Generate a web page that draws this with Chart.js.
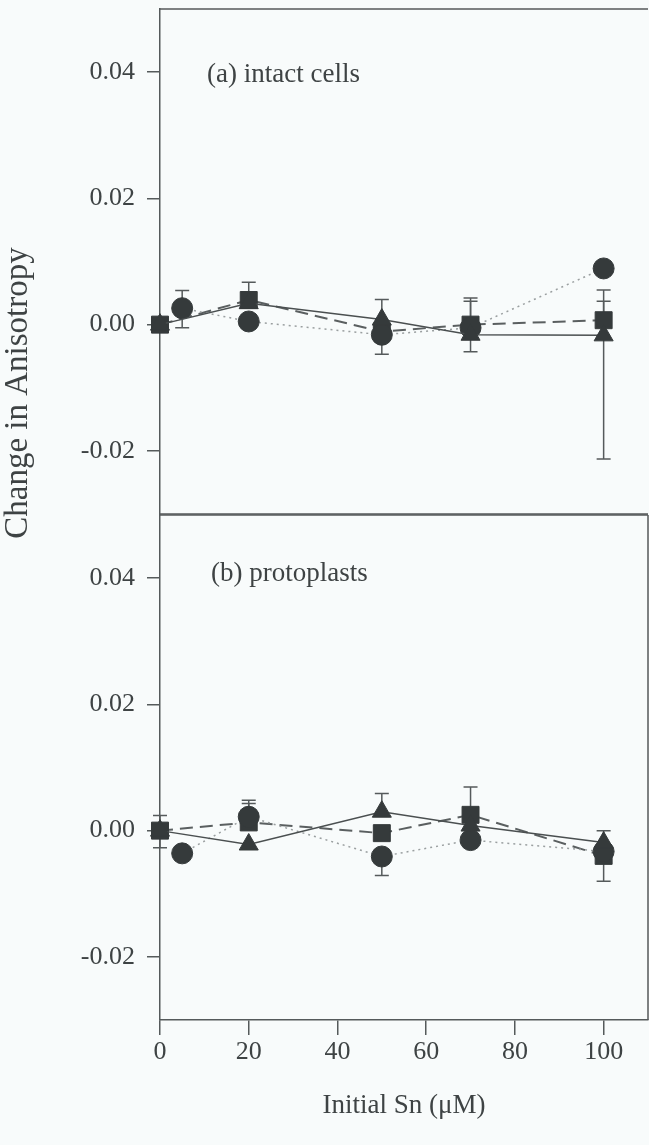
<!DOCTYPE html>
<html>
<head>
<meta charset="utf-8">
<script src="https://cdn.jsdelivr.net/npm/chart.js@4"></script>
<style>
html, body { margin: 0; padding: 0; background: #f8fbfb; }
#wrap { position: relative; width: 649px; height: 1145px; overflow: hidden; }
canvas { position: absolute; left: 0; }
#panelA { top: -60px; }
#panelB { top: 0; }
</style>
</head>
<body>
<div id="wrap">
  <canvas id="panelA" width="700" height="1145"></canvas>
  <canvas id="panelB" width="700" height="1145"></canvas>
</div>
<script>
// Axis ticks
const xTicks = [0, 20, 40, 60, 80, 100];
const yTicks = [-0.02, 0.00, 0.02, 0.04];

// (a) intact cells
const aSquareX = [0, 20, 50, 70, 100];
const aSquareY = [0.0000, 0.0039, -0.0011, 0.0000, 0.0007];
const aSquareHi = [null, 0.0067, null, 0.0042, 0.0037];
const aSquareLo = [null, null, null, -0.0043, null];

const aCircleX = [5, 20, 50, 70, 100];
const aCircleY = [0.0026, 0.0005, -0.0016, -0.0005, 0.0089];
const aCircleHi = [0.0054, null, null, null, null];
const aCircleLo = [-0.0005, null, -0.0047, null, null];

const aTriX = [0, 20, 50, 70, 100];
const aTriY = [0.0000, 0.0034, 0.0008, -0.0016, -0.0017];
const aTriHi = [null, null, 0.0040, 0.0037, 0.0055];
const aTriLo = [null, null, null, null, -0.0213];

// (b) protoplasts
const bSquareX = [0, 20, 50, 70, 100];
const bSquareY = [0.0000, 0.0013, -0.0004, 0.0025, -0.0040];
const bSquareHi = [0.0024, 0.0048, null, 0.0069, null];
const bSquareLo = [-0.0027, null, null, null, -0.0080];

const bCircleX = [5, 20, 50, 70, 100];
const bCircleY = [-0.0036, 0.0022, -0.0041, -0.0015, -0.0033];
const bCircleHi = [null, 0.0043, null, null, null];
const bCircleLo = [null, null, -0.0071, null, null];

const bTriX = [0, 20, 50, 70, 100];
const bTriY = [0.0000, -0.0022, 0.0030, 0.0008, -0.0019];
const bTriHi = [null, null, 0.0059, null, 0.0000];
const bTriLo = [null, null, null, null, null];

const INK = '#353a3b';
const AXIS = '#555a5b';
const TEXT = '#3e4344';
const FONT = 'Liberation Serif';

// Build one line dataset with markers and error bounds
function series(xs, ys, hi, lo, style, radius, dash, lineColor, lineWidth) {
  return {
    data: xs.map((x, i) => ({ x: x, y: ys[i] })),
    errHi: hi,
    errLo: lo,
    showLine: true,
    clip: false,
    borderColor: lineColor,
    borderWidth: lineWidth,
    borderDash: dash,
    pointStyle: style,
    pointRadius: radius,
    pointHoverRadius: radius,
    pointBackgroundColor: INK,
    pointBorderColor: INK,
    pointBorderWidth: 1,
    tension: 0
  };
}

// Error bars, drawn under the markers
const errorBars = {
  id: 'errorBars',
  beforeDatasetsDraw(chart) {
    const ctx = chart.ctx;
    const xs = chart.scales.x;
    const ys = chart.scales.y;
    ctx.save();
    ctx.strokeStyle = AXIS;
    ctx.lineWidth = 1.5;
    chart.data.datasets.forEach(ds => {
      ds.data.forEach((p, i) => {
        const px = xs.getPixelForValue(p.x);
        const py = ys.getPixelForValue(p.y);
        [ds.errHi[i], ds.errLo[i]].forEach(v => {
          if (v === null) return;
          const ey = ys.getPixelForValue(v);
          ctx.beginPath();
          ctx.moveTo(px, py);
          ctx.lineTo(px, ey);
          ctx.moveTo(px - 7, ey);
          ctx.lineTo(px + 7, ey);
          ctx.stroke();
        });
      });
    });
    ctx.restore();
  }
};

// Frame lines around the plot area and free text
const frame = {
  id: 'frame',
  afterDraw(chart, args, opts) {
    const ctx = chart.ctx;
    const a = chart.chartArea;
    ctx.save();
    ctx.strokeStyle = AXIS;
    ctx.lineWidth = 1.5;
    ctx.beginPath();
    if (opts.top) { ctx.moveTo(a.left, a.top); ctx.lineTo(a.right, a.top); }
    if (opts.bottom) { ctx.moveTo(a.left, a.bottom); ctx.lineTo(a.right, a.bottom); }
    if (opts.right) { ctx.moveTo(a.right, a.top); ctx.lineTo(a.right, a.bottom); }
    ctx.stroke();
    ctx.fillStyle = TEXT;
    ctx.textBaseline = 'middle';
    ctx.textAlign = 'left';
    ctx.font = '27px "' + FONT + '"';
    ctx.fillText(opts.label, opts.labelX, opts.labelY + opts.dy);
    if (opts.yTitle) {
      ctx.translate(18, 393 + opts.dy);
      ctx.rotate(-Math.PI / 2);
      ctx.textAlign = 'center';
      ctx.font = '33px "' + FONT + '"';
      ctx.fillText(opts.yTitle, 0, 0);
    }
    ctx.restore();
  }
};

function makeChart(id, datasets, pad, showX, frameOpts) {
  return new Chart(document.getElementById(id), {
    type: 'scatter',
    data: { datasets: datasets },
    options: {
      responsive: false,
      animation: false,
      events: [],
      layout: { padding: pad },
      plugins: {
        legend: { display: false },
        tooltip: { enabled: false },
        frame: frameOpts
      },
      scales: {
        x: {
          type: 'linear',
          min: 0,
          max: 110,
          display: showX,
          afterBuildTicks: s => { s.ticks = xTicks.map(v => ({ value: v })); },
          afterFit: s => { s.height = showX ? 125 : 0; },
          border: { display: true, color: AXIS, width: 1.5 },
          grid: { drawOnChartArea: false, drawTicks: true, tickLength: 15, color: AXIS, lineWidth: 1.5 },
          ticks: { color: TEXT, padding: 2, font: { family: FONT, size: 26 } },
          title: {
            display: true,
            text: 'Initial Sn (\u03bcM)',
            color: TEXT,
            padding: { top: 0, bottom: 23 },
            font: { family: FONT, size: 27 }
          }
        },
        y: {
          type: 'linear',
          min: -0.03,
          max: 0.05,
          afterBuildTicks: s => { s.ticks = yTicks.map(v => ({ value: v })); },
          afterFit: s => { s.width = 160; },
          border: { display: true, color: AXIS, width: 1.5 },
          grid: { drawOnChartArea: false, drawTicks: true, tickLength: 13, color: AXIS, lineWidth: 1.5 },
          ticks: {
            color: TEXT,
            padding: 12,
            font: { family: FONT, size: 26 },
            callback: v => v.toFixed(2)
          }
        }
      }
    },
    plugins: [errorBars, frame]
  });
}

// Panel (a): canvas is shifted up 60px, so its plot area sits at 9..514 on the page
makeChart('panelA', [
  series(aTriX, aTriY, aTriHi, aTriLo, 'triangle', 11, [], '#4a4f50', 1.5),
  series(aCircleX, aCircleY, aCircleHi, aCircleLo, 'circle', 10.5, [2, 4], '#9a9fa0', 1.5),
  series(aSquareX, aSquareY, aSquareHi, aSquareLo, 'rect', 12, [13, 7], '#5a5f60', 2)
], { left: 0, right: 52, top: 69, bottom: 571 }, false,
  { top: true, bottom: true, right: false, dy: 60, label: '(a) intact cells', labelX: 207, labelY: 75, yTitle: 'Change in Anisotropy' });

// Panel (b): plot area at 515..1020 on the page, x axis below
makeChart('panelB', [
  series(bTriX, bTriY, bTriHi, bTriLo, 'triangle', 11, [], '#4a4f50', 1.5),
  series(bCircleX, bCircleY, bCircleHi, bCircleLo, 'circle', 10.5, [2, 4], '#9a9fa0', 1.5),
  series(bSquareX, bSquareY, bSquareHi, bSquareLo, 'rect', 12, [13, 7], '#5a5f60', 2)
], { left: 0, right: 52, top: 515, bottom: 0 }, true,
  { top: true, bottom: false, right: true, dy: 0, label: '(b) protoplasts', labelX: 211, labelY: 574, yTitle: '' });
</script>
</body>
</html>
